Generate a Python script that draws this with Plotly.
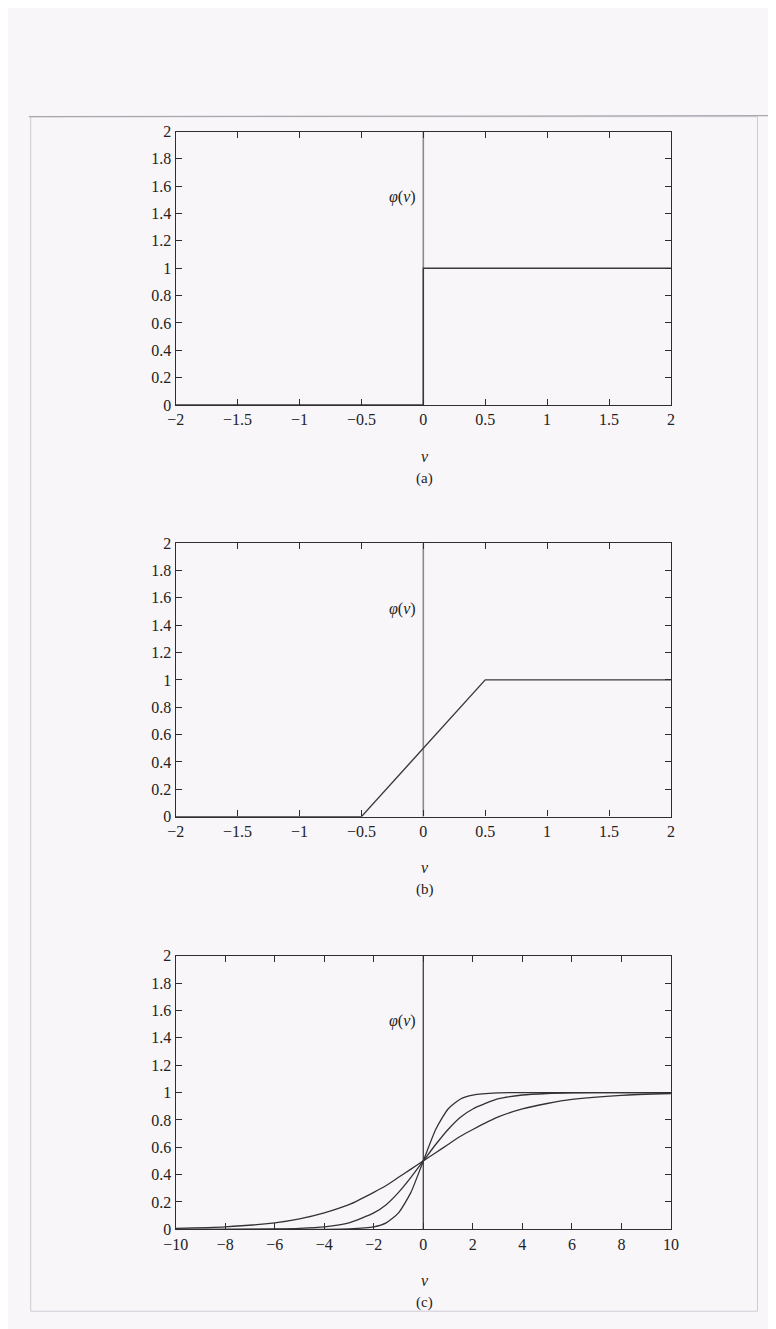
import plotly.graph_objects as go

W, H = 776, 1329

# ---- data ----
# (a) threshold function
a_v = [-2, 0, 0, 2]
a_phi = [0, 0, 1, 1]
# (b) piecewise-linear function
b_v = [-2, -0.5, 0.5, 2]
b_phi = [0, 0, 1, 1]
# (c) sigmoid functions
c_v = [-10, -8, -6, -5, -4, -3, -2, -1.5, -1, -0.5, 0, 0.5, 1, 1.5, 2, 3, 4, 5, 6, 8, 10]
c_phi_shallow = [0.007, 0.018, 0.047, 0.076, 0.12, 0.18, 0.27, 0.32, 0.38, 0.44, 0.5,
                 0.56, 0.62, 0.68, 0.73, 0.82, 0.88, 0.92, 0.95, 0.98, 0.993]
c_phi_medium = [0, 0, 0.003, 0.007, 0.018, 0.047, 0.12, 0.18, 0.27, 0.38, 0.5,
                0.62, 0.73, 0.82, 0.88, 0.953, 0.982, 0.993, 0.997, 1, 1]
c_phi_steep = [0, 0, 0, 0, 0, 0.003, 0.018, 0.047, 0.12, 0.27, 0.5,
               0.73, 0.88, 0.953, 0.982, 0.998, 1, 1, 1, 1, 1]

ab_xticks = [-2, -1.5, -1, -0.5, 0, 0.5, 1, 1.5, 2]
ab_xlabels = ["\u22122", "\u22121.5", "\u22121", "\u22120.5", "0", "0.5", "1", "1.5", "2"]
c_xticks = [-10, -8, -6, -4, -2, 0, 2, 4, 6, 8, 10]
c_xlabels = ["\u221210", "\u22128", "\u22126", "\u22124", "\u22122", "0", "2", "4", "6", "8", "10"]
yticks = [0, 0.2, 0.4, 0.6, 0.8, 1, 1.2, 1.4, 1.6, 1.8, 2]
ylabels = ["0", "0.2", "0.4", "0.6", "0.8", "1", "1.2", "1.4", "1.6", "1.8", "2"]
panel_labels = ["(a)", "(b)", "(c)"]

# ---- layout in pixels ----
left_px, right_px = 159, 668
panels_px = [(117, 394), (534, 811), (952, 1229)]  # (top, bottom)

def py(p):
    return 1 - p / H

BG = "#f9f6fa"
INK = "#2e2e2e"
FONT = "Liberation Serif"

fig = go.Figure()

line_style = dict(color="#3a3a3a", width=1.4)
zero_style = dict(color="#8a8a8a", width=1.6)

# panel (a)
fig.add_trace(go.Scatter(x=[0, 0], y=[0, 2], mode="lines", line=zero_style, xaxis="x", yaxis="y", showlegend=False))
fig.add_trace(go.Scatter(x=a_v, y=a_phi, mode="lines", line=line_style, xaxis="x", yaxis="y", showlegend=False))
# panel (b)
fig.add_trace(go.Scatter(x=[0, 0], y=[0, 2], mode="lines", line=zero_style, xaxis="x2", yaxis="y2", showlegend=False))
fig.add_trace(go.Scatter(x=b_v, y=b_phi, mode="lines", line=line_style, xaxis="x2", yaxis="y2", showlegend=False))
# panel (c)
fig.add_trace(go.Scatter(x=[0, 0], y=[0, 2], mode="lines", line=dict(color="#4a4a4a", width=1.4),
                         xaxis="x3", yaxis="y3", showlegend=False))
for ys in (c_phi_shallow, c_phi_medium, c_phi_steep):
    fig.add_trace(go.Scatter(x=c_v, y=ys, mode="lines", line=dict(color="#333333", width=1.3, shape="spline", smoothing=0.6),
                             xaxis="x3", yaxis="y3", showlegend=False))

axis_common = dict(showline=True, linecolor=INK, linewidth=1.3, mirror="ticks",
                   ticks="inside", ticklen=6, tickcolor=INK, tickwidth=1.2,
                   showgrid=False, zeroline=False, fixedrange=True,
                   tickfont=dict(family=FONT, size=16, color="#222"))

xdom = [left_px / W, right_px / W]
layout = dict(width=W, height=H, margin=dict(l=0, r=0, t=0, b=0),
              paper_bgcolor=BG, plot_bgcolor=BG, showlegend=False)

annotations = []
for i, (top, bot) in enumerate(panels_px):
    sfx = "" if i == 0 else str(i + 1)
    if i < 2:
        xt, xl, xr = ab_xticks, ab_xlabels, [-2, 2]
    else:
        xt, xl, xr = c_xticks, c_xlabels, [-10, 10]
    layout["xaxis" + sfx] = dict(axis_common, domain=xdom, range=xr, tickvals=xt, ticktext=xl,
                                 anchor="y" + sfx)
    layout["yaxis" + sfx] = dict(axis_common, domain=[py(bot), py(top)], range=[0, 2],
                                 tickvals=yticks, ticktext=ylabels, anchor="x" + sfx)
    # phi(v) label
    annotations.append(dict(x=0, y=1.52, xref="x" + sfx, yref="y" + sfx, xanchor="right", yanchor="middle",
                            xshift=-5, showarrow=False, text="<i>\u03c6</i>(<i>v</i>)",
                            font=dict(family=FONT, size=16, color="#222")))
    # axis title v
    annotations.append(dict(x=(xdom[0] + xdom[1]) / 2 + 0.002, y=py(bot + 52), xref="paper", yref="paper",
                            xanchor="center", yanchor="middle", showarrow=False, text="<i>v</i>",
                            font=dict(family=FONT, size=16, color="#222")))
    # panel label
    annotations.append(dict(x=(xdom[0] + xdom[1]) / 2 + 0.002, y=py(bot + 74), xref="paper", yref="paper",
                            xanchor="center", yanchor="middle", showarrow=False, text=panel_labels[i],
                            font=dict(family=FONT, size=15, color="#222")))

layout["annotations"] = annotations
layout["shapes"] = [
    dict(type="rect", xref="paper", yref="paper", x0=10 / W, x1=757 / W, y0=py(1312), y1=py(102),
         line=dict(color="#cfcad3", width=1), layer="below"),
    dict(type="line", xref="paper", yref="paper", x0=8 / W, x1=770 / W, y0=py(102), y1=py(101),
         line=dict(color="#a9a6ad", width=1.2), layer="below"),
]

fig.update_layout(**layout)
fig.write_html("out.html")
